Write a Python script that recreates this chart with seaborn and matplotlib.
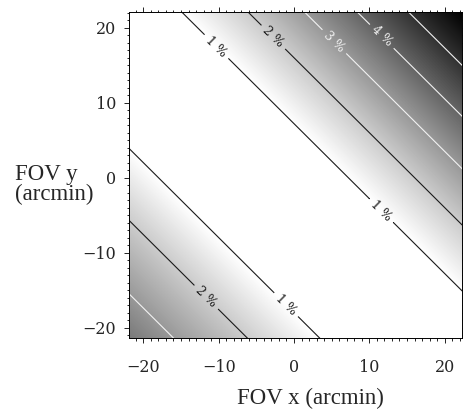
import numpy as np
import matplotlib
matplotlib.use("Agg")
import matplotlib.pyplot as plt
import seaborn as sns
from matplotlib.ticker import MultipleLocator

# Contour levels (%) and where each level crosses the diagonal s = x + y (arcmin)
levels = [1, 2, 3, 4, 5]
s_upper = [7.2, 16.0, 23.5, 30.5, 37.3]      # levels 1..5 toward the upper-right corner
s_lower = [-18.0, -27.6, -37.4]              # levels 1..3 toward the lower-left corner
# profile anchors at the corners and in the flat centre
s_corner_low, v_corner_low = -44.0, 3.7
s_corner_high, v_corner_high = 44.5, 6.0
s_centre, v_centre = -5.4, 0.4

line_colors = ["#1a1a1a", "#1a1a1a", "#f2f2f2", "#f2f2f2", "#f2f2f2"]

# label anchor points (x, y) in arcmin
label_points = [(-9.8, 18.0), (12.2, -3.8), (-2.5, 19.0), (5.6, 18.4),
                (11.8, 19.0), (-0.8, -16.7), (-11.4, -15.7)]

xticks = [-20, -10, 0, 10, 20]
yticks = [-20, -10, 0, 10, 20]

sns.set_theme(style="ticks")
plt.rcParams["font.family"] = ["DejaVu Serif"]

# Build the percentage field as a function of x + y
s_knots = [s_corner_low] + s_lower[::-1] + [s_centre] + s_upper + [s_corner_high]
v_knots = [v_corner_low] + levels[:len(s_lower)][::-1] + [v_centre] + levels + [v_corner_high]

x = np.linspace(-23, 23, 461)
y = np.linspace(-23, 23, 461)
X, Y = np.meshgrid(x, y)
Z = np.interp(X + Y, s_knots, v_knots)

fig = plt.figure(figsize=(4.63, 4.09), dpi=100)
ax = fig.add_axes([129 / 463, 1 - 338 / 409, (462 - 129) / 463, (338 - 12) / 409])

ax.imshow(Z, origin="lower", extent=[x[0], x[-1], y[0], y[-1]], cmap="gray_r",
          vmin=1, vmax=6, interpolation="bilinear", aspect="auto")
cs = ax.contour(X, Y, Z, levels=levels, colors=line_colors, linewidths=0.8)
ax.clabel(cs, fmt=lambda v: f"{v:.0f} %", fontsize=9, manual=label_points,
          inline=True, inline_spacing=4)

ax.set_xlim(-21.9, 22.3)
ax.set_ylim(-21.4, 22.1)
ax.set_xticks(xticks)
ax.set_yticks(yticks)
ax.set_xticklabels([str(t).replace("-", "\u2212") for t in xticks])
ax.set_yticklabels([str(t).replace("-", "\u2212") for t in yticks])
ax.xaxis.set_minor_locator(MultipleLocator(1))
ax.yaxis.set_minor_locator(MultipleLocator(1))
ax.tick_params(which="both", direction="out", top=True, right=True,
               color="black", width=0.6)
ax.tick_params(which="major", length=3.6, labelsize=11.5)
ax.tick_params(axis="x", which="major", pad=11.5)
ax.tick_params(axis="y", which="major", pad=5.5)
ax.tick_params(which="minor", length=1.8)
for sp in ax.spines.values():
    sp.set_linewidth(0.7)
    sp.set_color("black")

fig.text(237 / 463, 1 - 404 / 409, "FOV x (arcmin)", fontsize=16.5,
         family=["Liberation Serif"], ha="left", va="baseline")
fig.text(15 / 463, 1 - 180 / 409, "FOV y", fontsize=16.5,
         family=["Liberation Serif"], ha="left", va="baseline")
fig.text(15 / 463, 1 - 200 / 409, "(arcmin)", fontsize=16.5,
         family=["Liberation Serif"], ha="left", va="baseline")

fig.savefig("out.png", dpi=100, facecolor="white")
